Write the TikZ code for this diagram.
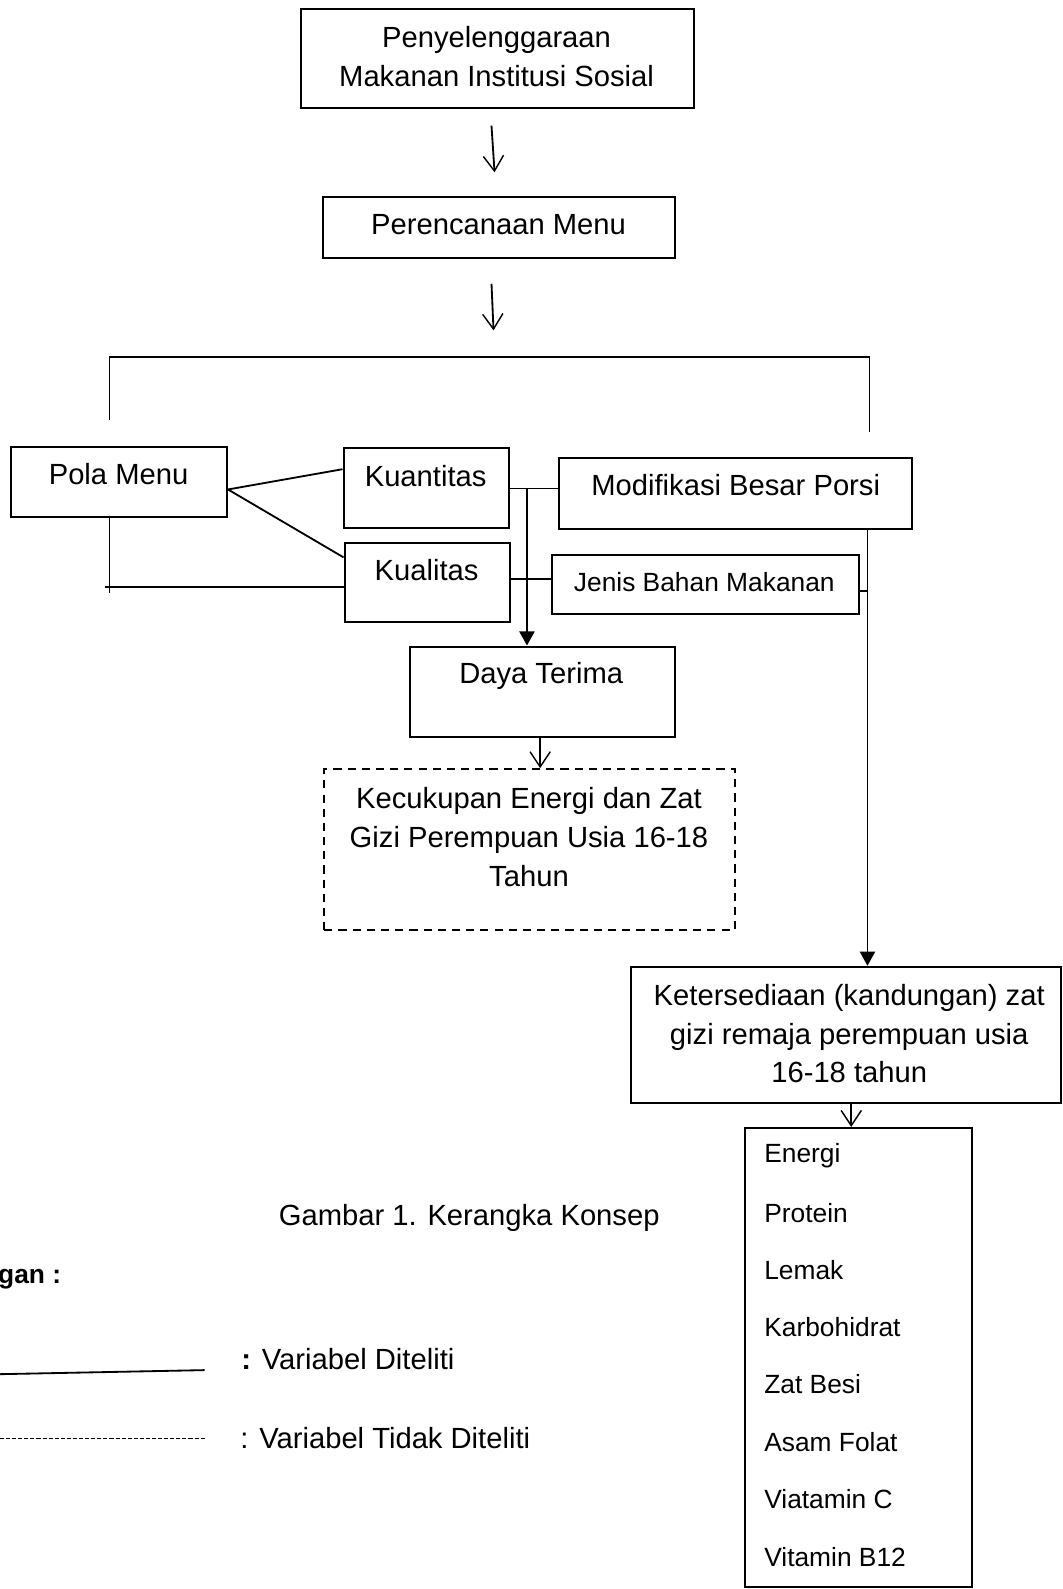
\documentclass[tikz,border=0pt]{standalone}
\usepackage{fontspec}
\setmainfont{Liberation Sans}
\usetikzlibrary{arrows.meta}
\newcommand\fbig{\fontsize{28.8}{38}\selectfont}
\newcommand\fsml{\fontsize{26}{32}\selectfont}
\begin{document}
\begin{tikzpicture}[x=1pt,y=-1pt,
  box/.style={draw, line width=2pt, inner sep=0pt, anchor=north west},
  lbl/.style={inner sep=0pt, align=center, font=\fbig},
  item/.style={inner sep=0pt, anchor=west, font=\fsml},
  con/.style={line width=1.8pt},
  openarr/.style={con, -{Straight Barb[length=15pt,width=20pt,line width=1.4pt]}},
  solarr/.style={con, -{Triangle[length=14pt,width=15pt]}}]
\useasboundingbox (0,0) rectangle (1048,1568);

% boxes
\node[box, minimum width=388pt, minimum height=98pt] (b1) at (296,8) {};
\node[box, minimum width=347pt, minimum height=61pt] (b2) at (318,193) {};
\node[box, minimum width=213pt, minimum height=69pt] (pola) at (10,440) {};
\node[box, minimum width=163pt, minimum height=79pt] (kuan) at (338,441) {};
\node[box, minimum width=163pt, minimum height=78pt] (kual) at (339,535) {};
\node[box, minimum width=348pt, minimum height=70pt] (modif) at (551,451) {};
\node[box, minimum width=303pt, minimum height=58pt] (jenis) at (544,547) {};
\node[box, minimum width=261pt, minimum height=89pt] (daya) at (404,637) {};
\node[box, dash pattern=on 8pt off 6pt, minimum width=405pt, minimum height=159pt] (kecuk) at (319,758) {};
\node[box, minimum width=424pt, minimum height=134pt] (keter) at (622,953) {};
\node[box, minimum width=224pt, minimum height=453pt] (list) at (734,1112) {};

% texts
\node[lbl] (t1) at (490,56) {Penyelenggaraan\\Makanan Institusi Sosial};
\node[lbl] (t2) at (492,222) {Perencanaan Menu};
\node[lbl] (tpola) at (117,468) {Pola Menu};
\node[lbl] (tkuan) at (420,470) {Kuantitas};
\node[lbl] (tkual) at (421,563) {Kualitas};
\node[lbl] (tmodif) at (726,479) {Modifikasi Besar Porsi};
\node[lbl, font=\fsml] (tjenis) at (695,574) {Jenis Bahan Makanan};
\node[lbl] (tdaya) at (534,667) {Daya Terima};
\node[lbl] (tkecuk) at (522,826) {Kecukupan Energi dan Zat\\Gizi Perempuan Usia 16-18\\Tahun};
\node[lbl] (tketer) at (838,1020) {Ketersediaan (kandungan) zat\\gizi remaja perempuan usia\\16-18 tahun};
\node[item] (i1) at (754,1140) {Energi};
\node[item] (i2) at (754,1197) {Protein};
\node[item] (i3) at (754,1253) {Lemak};
\node[item] (i4) at (754,1310) {Karbohidrat};
\node[item] (i5) at (754,1366) {Zat Besi};
\node[item] (i6) at (754,1423) {Asam Folat};
\node[item] (i7) at (754,1479) {Viatamin C};
\node[item] (i8) at (754,1536) {Vitamin B12};
\node[lbl] (cap) at (463,1202) {Gambar 1. Kerangka Konsep};
\node[inner sep=0pt, anchor=west, font=\fsml\bfseries] (ket) at (-2,1262) {gan :};
\node[inner sep=0pt, anchor=west, font=\fbig] (lg1) at (238,1341) {\textbf{:} Variabel Diteliti};
\node[inner sep=0pt, anchor=west, font=\fbig] (lg2) at (237,1419) {: Variabel Tidak Diteliti};

% free-end coordinates
\coordinate (a1s) at (485,124); \coordinate (a1e) at (488,170);
\coordinate (a2s) at (485,280); \coordinate (a2e) at (487,326);
\coordinate (brl) at (108,414); \coordinate (brtl) at (108,352);
\coordinate (brtr) at (858,352); \coordinate (brr) at (858,426);
\coordinate (pb1) at (108,509); \coordinate (pb2) at (108,585);
\coordinate (ph1) at (104,579); \coordinate (ph) at (0,579);
\coordinate (hq) at (0,482); \coordinate (vq) at (520,0);
\coordinate (hl) at (0,571); \coordinate (vr) at (856,0);
\coordinate (hj) at (0,583); \coordinate (vd) at (533,0);
\coordinate (vk) at (840,0);
\coordinate (ls1) at (0,1356); \coordinate (ls2) at (202,1352);
\coordinate (ld1) at (0,1419); \coordinate (ld2) at (202,1419);

% connectors
\draw[openarr] (a1s) -- (a1e);
\draw[openarr] (a2s) -- (a2e);
\draw[con] (brl) -- (brtl) -- (brtr) -- (brr);
\draw[con] ([yshift=-7.5pt]pola.east) -- ([yshift=18.5pt]kuan.west);
\draw[con] ([yshift=-7.5pt]pola.east) -- ([yshift=25pt]kual.west);
\draw[con] (pb1) -- (pb2);
\draw[con] (ph1) -- (kual.west |- ph);
\draw[con] (kuan.east |- hq) -- (modif.west |- hq);
\draw[solarr] (vq |- hq) -- (daya.north -| vq);
\draw[con] (kual.east |- hl) -- (jenis.west |- hl);
\draw[solarr] (modif.south -| vr) -- (keter.north -| vr);
\draw[con] (jenis.east |- hj) -- (vr |- hj);
\draw[openarr] (daya.south -| vd) -- (kecuk.north -| vd);
\draw[openarr] (keter.south -| vk) -- (list.north -| vk);

% legend lines
\draw[line width=1.8pt] (ls1) -- (ls2);
\draw[line width=1pt, dash pattern=on 4pt off 2pt] (ld1) -- (ld2);
\end{tikzpicture}
\end{document}
